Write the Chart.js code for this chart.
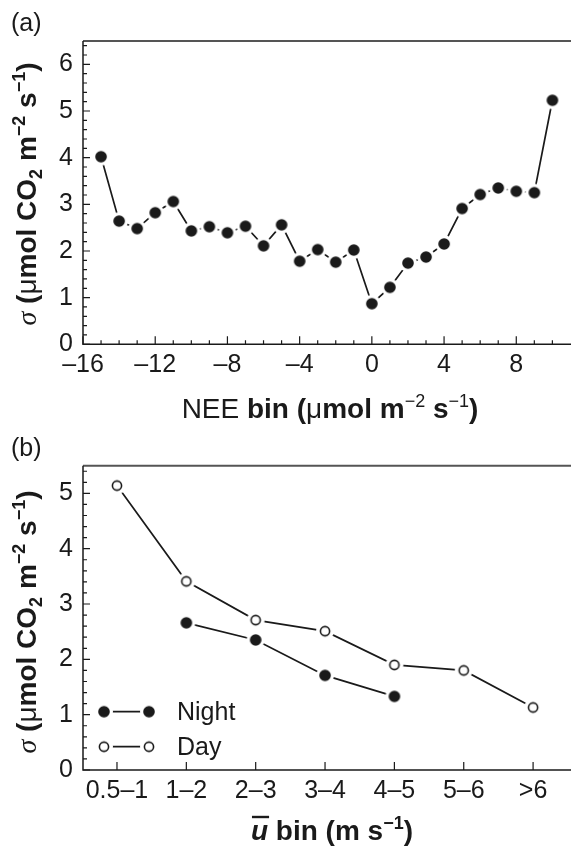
<!DOCTYPE html>
<html><head><meta charset="utf-8">
<script src="https://cdn.jsdelivr.net/npm/chart.js@4"></script>
<style>
html,body{margin:0;padding:0;background:#fff;}
body{width:571px;height:846px;overflow:hidden;position:relative;}
canvas{position:absolute;left:0;display:block;}
</style></head>
<body>
<canvas id="ca" width="571" height="425" style="top:0"></canvas>
<canvas id="cb" width="571" height="421" style="top:425px"></canvas>
<script>
// ---------- data ----------
const neeBins = [-15,-14,-13,-12,-11,-10,-9,-8,-7,-6,-5,-4,-3,-2,-1,0,1,2,3,4,5,6,7,8,9,10];
const neeSigma = [4.02,2.64,2.48,2.82,3.06,2.43,2.52,2.39,2.53,2.11,2.56,1.78,2.03,1.76,2.02,0.87,1.22,1.74,1.87,2.15,2.91,3.21,3.35,3.28,3.25,5.23];
const neeTicks = [-16,-12,-8,-4,0,4,8];
const sigmaTicksA = [0,1,2,3,4,5,6];
const windBins = ['0.5–1','1–2','2–3','3–4','4–5','5–6','>6'];
const nightSigma = [null,2.66,2.35,1.71,1.33,null,null];
const daySigma = [5.14,3.41,2.71,2.51,1.90,1.80,1.13];
const sigmaTicksB = [0,1,2,3,4,5];
const seriesNames = ['Night','Day'];

// ---------- styling ----------
const SANS = '"Liberation Sans", Arial, Helvetica, sans-serif';
const SERIF = '"Liberation Serif", "Times New Roman", serif';
const INK = '#1a1a1a';
const TICKFONT = {family: SANS, size: 25};

function marker(filled, r, gap){
  const s = Math.ceil(gap*2+2);
  const c = document.createElement('canvas');
  c.width = s; c.height = s;
  const g = c.getContext('2d'); const m = s/2;
  g.fillStyle = '#fff'; g.beginPath(); g.arc(m,m,gap,0,Math.PI*2); g.fill();
  if (filled){
    g.fillStyle = INK; g.beginPath(); g.arc(m,m,r,0,Math.PI*2); g.fill();
  } else {
    g.fillStyle = '#fff'; g.strokeStyle = INK; g.lineWidth = 1.6;
    g.beginPath(); g.arc(m,m,r-0.8,0,Math.PI*2); g.fill(); g.stroke();
  }
  return c;
}
const dotA = marker(true, 5.8, 9);
const dotNight = marker(true, 5.8, 9);
const ringDay = marker(false, 5.4, 9);

function rich(ctx, parts, x, y, rotate){
  ctx.save();
  ctx.translate(x, y);
  if (rotate) ctx.rotate(-Math.PI/2);
  let w = 0;
  parts.forEach(p => { ctx.font = p.f; p.w = ctx.measureText(p.t).width; w += p.w; });
  let cx = -w/2;
  ctx.textBaseline = 'alphabetic';
  ctx.fillStyle = INK; ctx.strokeStyle = INK;
  parts.forEach(p => {
    ctx.font = p.f;
    ctx.fillText(p.t, cx, p.dy || 0);
    if (p.over){
      ctx.lineWidth = 2.4;
      ctx.beginPath(); ctx.moveTo(cx+1, -23); ctx.lineTo(cx+p.w+1, -23); ctx.stroke();
    }
    cx += p.w;
  });
  ctx.restore();
}

const TS = 28, SUP = 18;
const B = 'bold ' + TS + 'px ' + SANS;
const N = TS + 'px ' + SANS;
const BS = 'bold ' + SUP + 'px ' + SANS;
const NS = SUP + 'px ' + SANS;
const yTitleParts = () => [
  {t:'σ', f:'italic ' + TS + 'px ' + SERIF},
  {t:' (', f:B},
  {t:'μ', f:N},
  {t:'mol CO', f:B},
  {t:'2', f:BS, dy:6},
  {t:' m', f:B},
  {t:'−2', f:BS, dy:-11},
  {t:' s', f:B},
  {t:'−1', f:BS, dy:-11},
  {t:')', f:B}
];

function deco(opts){
  return {
    id: 'deco' + opts.name,
    beforeDatasetsDraw(chart){
      const ctx = chart.ctx, a = chart.chartArea;
      const xs = chart.scales.x, ys = chart.scales.y;
      ctx.save();
      ctx.strokeStyle = '#555'; ctx.lineWidth = 2;
      ctx.beginPath(); ctx.moveTo(a.left, a.top); ctx.lineTo(chart.width, a.top); ctx.stroke();
      ctx.strokeStyle = INK; ctx.lineWidth = 1.5;
      ctx.beginPath(); ctx.moveTo(a.left, a.top); ctx.lineTo(a.left, a.bottom); ctx.lineTo(chart.width, a.bottom); ctx.stroke();
      ctx.lineWidth = 1.2;
      ctx.beginPath();
      for (let i = 0; i <= opts.yMinorCount; i++){
        const v = i * opts.yMinor;
        const y = ys.getPixelForValue(v);
        const L = (i % opts.yPer === 0) ? 7 : 4;
        ctx.moveTo(a.left, y); ctx.lineTo(a.left + L, y);
      }
      opts.xTicks.forEach(t => {
        const x = xs.getPixelForValue(t.v);
        ctx.moveTo(x, a.bottom); ctx.lineTo(x, a.bottom - t.L);
      });
      ctx.stroke();
      ctx.restore();
    },
    afterDraw(chart){
      opts.after && opts.after(chart);
    }
  };
}

// ---------- panel (a) ----------
const xTicksA = [];
for (let v = -16; v <= 10; v++) xTicksA.push({v, L: (v % 4 === 0) ? 8 : 4});

new Chart(document.getElementById('ca'), {
  type: 'line',
  data: {
    datasets: [{
      data: neeBins.map((b, i) => ({x: b, y: neeSigma[i]})),
      borderColor: INK, borderWidth: 1.7,
      pointStyle: dotA, pointRadius: 5,
      tension: 0, clip: false
    }]
  },
  options: {
    responsive: false, animation: false, devicePixelRatio: 1, events: [],
    layout: {padding: {top: 41, right: 0, left: 0, bottom: 0}},
    plugins: {legend: {display: false}, tooltip: {enabled: false}},
    scales: {
      x: {
        type: 'linear', min: -16, max: 10.66,
        grid: {display: false, drawTicks: false}, border: {display: false},
        afterBuildTicks: s => { s.ticks = neeTicks.map(v => ({value: v})); },
        afterFit: s => { s.height = 425 - 344.3; },
        ticks: {color: INK, font: TICKFONT, padding: 6, maxRotation: 0,
          callback: v => (v < 0 ? '–' + Math.abs(v) : String(v))}
      },
      y: {
        min: 0, max: 6.5,
        grid: {display: false, drawTicks: false}, border: {display: false},
        afterBuildTicks: s => { s.ticks = sigmaTicksA.map(v => ({value: v})); },
        afterFit: s => { s.width = 83; },
        ticks: {color: INK, font: TICKFONT, padding: 10}
      }
    }
  },
  plugins: [deco({name: 'a', yMinor: 0.2, yMinorCount: 32, yPer: 5, xTicks: xTicksA,
    after(chart){
      const ctx = chart.ctx;
      ctx.save();
      ctx.fillStyle = INK; ctx.font = '25px ' + SANS; ctx.textBaseline = 'alphabetic';
      ctx.fillText('(a)', 11, 31);
      ctx.restore();
      rich(ctx, yTitleParts(), 36, 194, true);
      rich(ctx, [
        {t:'NEE ', f:N},
        {t:'bin (', f:B},
        {t:'μ', f:N},
        {t:'mol m', f:B},
        {t:'−2', f:NS, dy:-11},
        {t:' s', f:B},
        {t:'−1', f:NS, dy:-11},
        {t:')', f:B}
      ], 330, 418, false);
    }
  })]
});

// ---------- panel (b) ----------
const xTicksB = windBins.map((_, i) => ({v: i, L: 8}));

new Chart(document.getElementById('cb'), {
  type: 'line',
  data: {
    datasets: [
      {
        label: seriesNames[0],
        data: windBins.map((b, i) => ({x: i, y: nightSigma[i]})).filter(p => p.y !== null),
        borderColor: INK, borderWidth: 1.7,
        pointStyle: dotNight, pointRadius: 5, tension: 0, clip: false
      },
      {
        label: seriesNames[1],
        data: windBins.map((b, i) => ({x: i, y: daySigma[i]})),
        borderColor: INK, borderWidth: 1.7,
        pointStyle: ringDay, pointRadius: 5, tension: 0, clip: false
      }
    ]
  },
  options: {
    responsive: false, animation: false, devicePixelRatio: 1, events: [],
    layout: {padding: {top: 40.7, right: 0, left: 0, bottom: 0}},
    plugins: {legend: {display: false}, tooltip: {enabled: false}},
    scales: {
      x: {
        type: 'linear', min: -0.49, max: 6.45,
        grid: {display: false, drawTicks: false}, border: {display: false},
        afterBuildTicks: s => { s.ticks = windBins.map((_, i) => ({value: i})); },
        afterFit: s => { s.height = 421 - 345; },
        ticks: {color: INK, font: TICKFONT, padding: 6, maxRotation: 0, autoSkip: false,
          callback: v => windBins[v]}
      },
      y: {
        min: 0, max: 5.5,
        grid: {display: false, drawTicks: false}, border: {display: false},
        afterBuildTicks: s => { s.ticks = sigmaTicksB.map(v => ({value: v})); },
        afterFit: s => { s.width = 83; },
        ticks: {color: INK, font: TICKFONT, padding: 10}
      }
    }
  },
  plugins: [deco({name: 'b', yMinor: 0.2, yMinorCount: 27, yPer: 5, xTicks: xTicksB,
    after(chart){
      const ctx = chart.ctx;
      ctx.save();
      ctx.fillStyle = INK; ctx.font = '25px ' + SANS; ctx.textBaseline = 'alphabetic';
      ctx.fillText('(b)', 11, 31);
      const rows = [{y: 286.7, img: dotNight, name: seriesNames[0]}, {y: 321.7, img: ringDay, name: seriesNames[1]}];
      rows.forEach(r => {
        ctx.strokeStyle = INK; ctx.lineWidth = 1.7;
        ctx.beginPath(); ctx.moveTo(104, r.y); ctx.lineTo(149, r.y); ctx.stroke();
        [104, 149].forEach(x => ctx.drawImage(r.img, x - r.img.width/2, r.y - r.img.height/2));
        ctx.fillStyle = INK; ctx.font = '25px ' + SANS; ctx.textBaseline = 'middle';
        ctx.fillText(r.name, 177, r.y + 1);
      });
      ctx.restore();
      rich(ctx, yTitleParts(), 36, 197, true);
      rich(ctx, [
        {t:'u', f:'bold italic ' + TS + 'px ' + SANS, over: true},
        {t:' bin (m s', f:B},
        {t:'−1', f:BS, dy:-11},
        {t:')', f:B}
      ], 332, 415, false);
    }
  })]
});
</script>
</body></html>
